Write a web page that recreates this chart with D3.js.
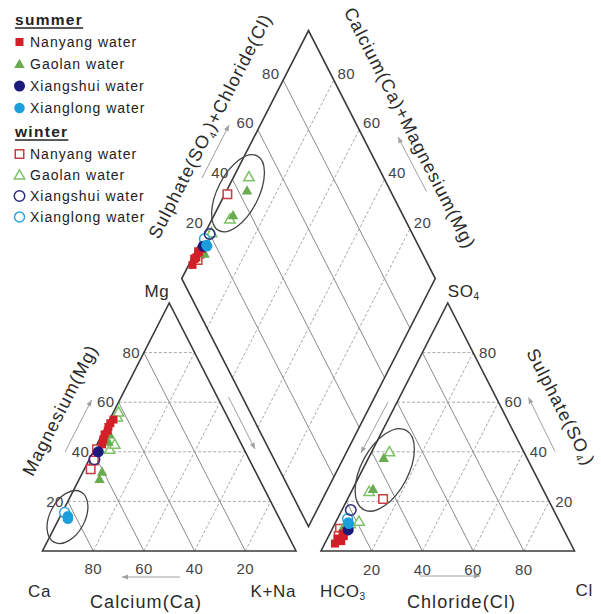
<!DOCTYPE html>
<html>
<head>
<meta charset="utf-8">
<script src="https://cdn.jsdelivr.net/npm/d3@7"></script>
<style>
  body { margin: 0; background: #fff; }
  svg { display: block; font-family: "Liberation Sans", Arial, sans-serif; }
</style>
</head>
<body>
<svg id="chart" width="601" height="614"></svg>
<script>
// ---- data -------------------------------------------------------------
const sites = ["Nanyang water", "Gaolan water", "Xiangshui water", "Xianglong water"];
const seasons = ["summer", "winter"];
const ticks = [20, 40, 60, 80];

// milliequivalent percentages: mg = Mg, na = K+Na (Ca = 100 - mg - na)
//                              so4 = SO4, cl = Cl (HCO3 = 100 - so4 - cl)
const nanyangSummer = [
  { mg: 53, na: 1.5, so4: 3, cl: 4 },
  { mg: 51.5, na: 1, so4: 4, cl: 5 },
  { mg: 50, na: 1, so4: 5, cl: 4 },
  { mg: 48.5, na: 1.5, so4: 6, cl: 6 },
  { mg: 47, na: 1, so4: 7, cl: 5 },
  { mg: 45, na: 1.5, so4: 4, cl: 6 },
  { mg: 43, na: 2, so4: 8, cl: 6 }
];
const gaolanSummer = [
  { mg: 29, na: 8, so4: 37.5, cl: 6 },
  { mg: 32, na: 7.5, so4: 25, cl: 8 },
  { mg: 44, na: 4, so4: 10, cl: 4 },
  { mg: 47, na: 3, so4: 9, cl: 5 }
];
const xiangshuiSummer = [
  { mg: 40, na: 2, so4: 8.5, cl: 6.5 }
];
const xianglongSummer = [
  { mg: 14, na: 3, so4: 11.5, cl: 5 },
  { mg: 13, na: 3.5, so4: 11, cl: 5.5 }
];
const nanyangWinter = [
  { mg: 41, na: 1, so4: 21, cl: 14 },
  { mg: 36.5, na: 2, so4: 9, cl: 3 },
  { mg: 33, na: 2.5, so4: 6, cl: 4 }
];
const gaolanWinter = [
  { mg: 41, na: 6, so4: 40, cl: 7 },
  { mg: 43, na: 7, so4: 24, cl: 7 },
  { mg: 54, na: 2.5, so4: 12, cl: 9 },
  { mg: 56, na: 2, so4: 11, cl: 6 }
];
const xiangshuiWinter = [
  { mg: 37, na: 2, so4: 16.5, cl: 3.5 }
];
const xianglongWinter = [
  { mg: 15.5, na: 1, so4: 13, cl: 4 }
];

// ---- geometry ---------------------------------------------------------
const side = 253.5, tH = 248, base = 551, x0 = 42.5, gap = 25;
const x1 = x0 + side + gap;                       // HCO3 corner
const sx = d3.scaleLinear().domain([0, 100]).range([0, side]);
const sy = d3.scaleLinear().domain([0, 100]).range([0, tH]);

const cationXY = (mg, na) => [x0 + sx(na) + sx(mg) / 2, base - sy(mg)];
const anionXY = (so4, cl) => [x1 + sx(cl) + sx(so4) / 2, base - sy(so4)];
const dBottom = [x0 + side + gap / 2, base - (gap / 2) * (tH / (side / 2))];
const dLeft = [dBottom[0] - side / 2, dBottom[1] - tH];
const diamondXY = (na, s) => [dLeft[0] + sx(na) / 2 + sx(s) / 2, dLeft[1] + sy(na) - sy(s)];
const edgeAngle = Math.atan2(tH, side / 2) * 180 / Math.PI;

const svg = d3.select("#chart");
const gridSolid = { stroke: "#8a8a8a", width: 1, dash: null };
const gridDash = { stroke: "#a8a8a8", width: 1, dash: "3,2" };

function seg(g, a, b, st) {
  g.append("line")
    .attr("x1", a[0]).attr("y1", a[1]).attr("x2", b[0]).attr("y2", b[1])
    .attr("stroke", st.stroke).attr("stroke-width", st.width)
    .attr("stroke-dasharray", st.dash);
}

// ---- grids ------------------------------------------------------------
const grid = svg.append("g");
ticks.forEach(v => {
  // cation triangle
  seg(grid, cationXY(v, 0), cationXY(v, 100 - v), gridDash);     // Mg
  seg(grid, cationXY(0, v), cationXY(100 - v, v), gridDash);     // K+Na
  seg(grid, cationXY(0, 100 - v), cationXY(100 - v, 0), gridSolid); // Ca
  // anion triangle
  seg(grid, anionXY(v, 0), anionXY(v, 100 - v), gridDash);       // SO4
  seg(grid, anionXY(0, v), anionXY(100 - v, v), gridDash);       // Cl
  seg(grid, anionXY(100 - v, 0), anionXY(0, 100 - v), gridSolid); // HCO3
  // diamond
  seg(grid, diamondXY(0, v), diamondXY(100, v), gridSolid);
  seg(grid, diamondXY(v, 0), diamondXY(v, 100), gridDash);
});

// ---- outlines ---------------------------------------------------------
const outline = svg.append("g").attr("fill", "none").attr("stroke", "#3a3a3a").attr("stroke-width", 1.6)
  .attr("stroke-linejoin", "miter");
const polys = [
  [cationXY(0, 0), cationXY(0, 100), cationXY(100, 0)],
  [anionXY(0, 0), anionXY(0, 100), anionXY(100, 0)],
  [diamondXY(0, 0), diamondXY(100, 0), diamondXY(100, 100), diamondXY(0, 100)]
];
polys.forEach(p => outline.append("path").attr("d", d3.line()(p) + "Z"));

// ---- tick labels ------------------------------------------------------
const tl = svg.append("g").attr("font-size", 15).attr("fill", "#444").attr("letter-spacing", 0.4);
ticks.forEach(v => {
  let p = cationXY(0, 100 - v);
  tl.append("text").attr("x", p[0]).attr("y", 574).attr("text-anchor", "middle").text(v);
  p = cationXY(v, 0);
  tl.append("text").attr("x", p[0] - 4).attr("y", p[1]).attr("dy", "0.35em").attr("text-anchor", "end").text(v);
  p = anionXY(0, v);
  tl.append("text").attr("x", p[0]).attr("y", 575).attr("text-anchor", "middle").text(v);
  p = anionXY(v, 100 - v);
  tl.append("text").attr("x", p[0] + 6).attr("y", p[1]).attr("dy", "0.35em").attr("text-anchor", "start").text(v);
  p = diamondXY(0, v);
  tl.append("text").attr("x", p[0] - 12.5).attr("y", p[1] - 6.5).attr("dy", "0.35em").attr("text-anchor", "middle").text(v);
  p = diamondXY(100 - v, 100);
  tl.append("text").attr("x", p[0] + 12.5).attr("y", p[1] - 6.5).attr("dy", "0.35em").attr("text-anchor", "middle").text(v);
});

// ---- corner labels ----------------------------------------------------
const corner = svg.append("g").attr("font-size", 17).attr("fill", "#2a2a2a").attr("letter-spacing", 0.6);
corner.append("text").attr("x", cationXY(100, 0)[0]).attr("y", 297).attr("text-anchor", "end").text("Mg");
corner.append("text").attr("x", 28).attr("y", 597).text("Ca");
corner.append("text").attr("x", cationXY(0, 100)[0]).attr("y", 597).attr("text-anchor", "end").text("K+Na");
const hco3 = corner.append("text").attr("x", x1 - 1).attr("y", 597);
hco3.append("tspan").text("HCO");
hco3.append("tspan").attr("font-size", 10).attr("dy", 3).text("3");
corner.append("text").attr("x", anionXY(0, 100)[0] + 1).attr("y", 596).text("Cl");
const so4 = corner.append("text").attr("x", anionXY(100, 0)[0]).attr("y", 297);
so4.append("tspan").text("SO");
so4.append("tspan").attr("font-size", 10).attr("dy", 3).text("4");

// ---- axis titles ------------------------------------------------------
const titles = svg.append("g").attr("font-size", 18).attr("fill", "#2a2a2a").attr("letter-spacing", 1.1);
function title(cx, cy, angle, parts) {
  const t = titles.append("text")
    .attr("transform", `translate(${cx},${cy}) rotate(${angle})`)
    .attr("text-anchor", "middle").attr("dy", "0.35em");
  parts.forEach(([s, sub]) => {
    if (sub) {
      t.append("tspan").attr("font-size", 10).attr("dy", 4).text(s);
    } else {
      const sp = t.append("tspan").text(s);
      if (t.node().childNodes.length > 1 && t.node().childNodes[t.node().childNodes.length - 2].getAttribute("font-size") === "10") {
        sp.attr("dy", -4);
      }
    }
  });
}
title(146, 602, 0, [["Calcium(Ca)"]]);
title(461.5, 602, 0, [["Chloride(Cl)"]]);
title(60, 410, -edgeAngle, [["Magnesium(Mg)"]]);
title(210, 126, -edgeAngle, [["Sulphate(SO"], ["4", true], [")+Chloride(Cl)"]]);
title(410, 128, edgeAngle, [["Calcium(Ca)+Magnesium(Mg)"]]);
title(561, 407, edgeAngle, [["Sulphate(SO"], ["4", true], [")"]]);

// ---- direction arrows -------------------------------------------------
const arrows = svg.append("g").attr("stroke", "#a0a0a0").attr("fill", "#a0a0a0");
function arrow(a, b) {
  arrows.append("line").attr("x1", a[0]).attr("y1", a[1]).attr("x2", b[0]).attr("y2", b[1]).attr("stroke-width", 1);
  const ang = Math.atan2(b[1] - a[1], b[0] - a[0]);
  const L = 6, Wd = 2.5;
  const p1 = [b[0] - L * Math.cos(ang) + Wd * Math.sin(ang), b[1] - L * Math.sin(ang) - Wd * Math.cos(ang)];
  const p2 = [b[0] - L * Math.cos(ang) - Wd * Math.sin(ang), b[1] - L * Math.sin(ang) + Wd * Math.cos(ang)];
  arrows.append("path").attr("d", d3.line()([b, p1, p2]) + "Z").attr("stroke", "none");
}
arrow([180, 577], [122, 577]);
arrow([420, 576], [480, 576]);
arrow([65, 452], [91.5, 400]);
arrow([228.5, 397], [255, 449]);
arrow([202, 178], [229, 125]);
arrow([426.5, 191.5], [398, 137]);
arrow([388, 402], [361, 453]);
arrow([555, 451.5], [528.5, 397.5]);

// ---- grouping ellipses -------------------------------------------------
const ellipses = [
  { at: cationXY(13.7, 3), rx: 28.5, ry: 17.5, rot: -62 },
  { at: anionXY(32.7, 8.8), rx: 45, ry: 23.5, rot: -62 },
  { at: diamondXY(5, 39.4), rx: 42, ry: 20.5, rot: -63 }
];
svg.append("g").selectAll("ellipse").data(ellipses).join("ellipse")
  .attr("transform", d => `translate(${d.at[0]},${d.at[1]}) rotate(${d.rot})`)
  .attr("rx", d => d.rx).attr("ry", d => d.ry)
  .attr("fill", "none").attr("stroke", "#444").attr("stroke-width", 1.3);

// ---- markers ----------------------------------------------------------
const shapes = {
  square: s => `M${-s / 2},${-s / 2}h${s}v${s}h${-s}Z`,
  triangle: s => `M0,${-s * 0.55}L${s * 0.55},${s * 0.42}L${-s * 0.55},${s * 0.42}Z`,
  circle: s => d3.symbol(d3.symbolCircle, Math.PI * (s / 2) * (s / 2))()
};
const styles = [
  { site: sites[1], season: seasons[1], data: gaolanWinter, shape: "triangle", size: 9.5, fill: "#fff", stroke: "#7fc166" },
  { site: sites[0], season: seasons[1], data: nanyangWinter, shape: "square", size: 8.5, fill: "#fff", stroke: "#cc3b3f" },
  { site: sites[1], season: seasons[0], data: gaolanSummer, shape: "triangle", size: 9.5, fill: "#6aab50", stroke: "none" },
  { site: sites[0], season: seasons[0], data: nanyangSummer, shape: "square", size: 8, fill: "#d21f28", stroke: "none" },
  { site: sites[3], season: seasons[1], data: xianglongWinter, shape: "circle", size: 10, fill: "#fff", stroke: "#2aa5de" },
  { site: sites[2], season: seasons[1], data: xiangshuiWinter, shape: "circle", size: 10.5, fill: "none", stroke: "#2c2c7c" },
  { site: sites[2], season: seasons[0], data: xiangshuiSummer, shape: "circle", size: 11, fill: "#1b1b7a", stroke: "none" },
  { site: sites[3], season: seasons[0], data: xianglongSummer, shape: "circle", size: 10.5, fill: "#1c9edc", stroke: "none" }
];
const pts = svg.append("g");
styles.forEach(st => {
  const place = [
    d => cationXY(d.mg, d.na),
    d => anionXY(d.so4, d.cl),
    d => diamondXY(d.na, d.so4 + d.cl)
  ];
  place.forEach(f => {
    pts.append("g").selectAll("path").data(st.data).join("path")
      .attr("d", shapes[st.shape](st.size))
      .attr("transform", d => `translate(${f(d)[0]},${f(d)[1]})`)
      .attr("fill", st.fill).attr("stroke", st.stroke).attr("stroke-width", 1.5);
  });
});

// ---- legend -----------------------------------------------------------
const legend = svg.append("g").attr("fill", "#222");
const headY = { summer: 25, winter: 137 };
const rowY = { summer: [47, 69, 91, 113], winter: [159, 180, 201, 222] };
seasons.forEach(season => {
  const h = legend.append("text").attr("x", 15).attr("y", headY[season])
    .attr("font-size", 15.5).attr("font-weight", "bold").attr("letter-spacing", 1.3).text(season);
  const w = h.node().getComputedTextLength();
  legend.append("line").attr("x1", 15).attr("x2", 15 + w).attr("y1", headY[season] + 3).attr("y2", headY[season] + 3)
    .attr("stroke", "#222").attr("stroke-width", 1.4);
  sites.forEach((site, i) => {
    const st = styles.find(s => s.site === site && s.season === season);
    const y = rowY[season][i] - 5;
    legend.append("path").attr("d", shapes[st.shape](st.size))
      .attr("transform", `translate(19.5,${y})`)
      .attr("fill", st.fill === "none" ? "#fff" : st.fill).attr("stroke", st.stroke).attr("stroke-width", 1.5);
    legend.append("text").attr("x", 30).attr("y", rowY[season][i])
      .attr("font-size", 14).attr("letter-spacing", 1).text(site);
  });
});
</script>
</body>
</html>
